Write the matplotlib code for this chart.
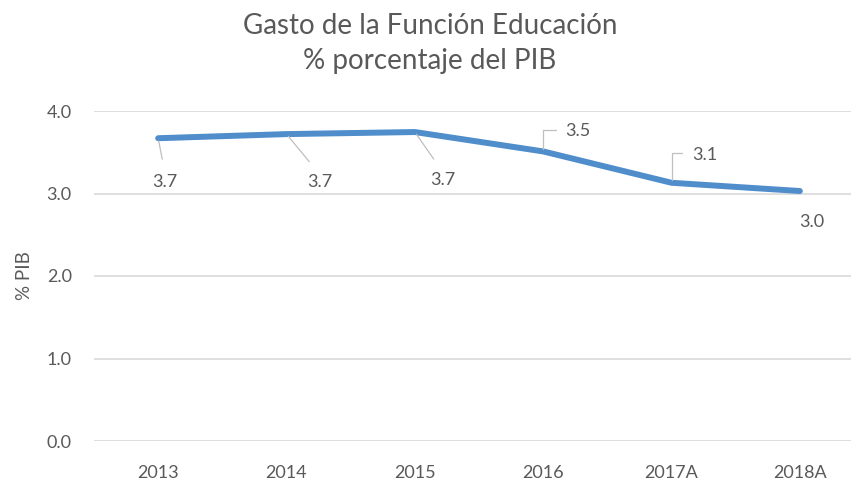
import matplotlib
matplotlib.use("Agg")
import matplotlib.pyplot as plt

years = ["2013", "2014", "2015", "2016", "2017A", "2018A"]
gasto_pib = [3.67, 3.72, 3.745, 3.51, 3.13, 3.03]
y_ticks = [0.0, 1.0, 2.0, 3.0, 4.0]

# label offsets in pixels (dx, dy) and whether Excel drew an elbow leader
label_offsets = [(7, -44), (33, -48), (28, -48), (35, 20), (33, 28), (12, -31)]
label_style = ["straight", "straight", "straight", "elbow", "elbow", "none"]

plt.rcParams['font.family'] = ['Lato', 'DejaVu Sans']
text_color = '#595959'
grid_color = '#D9D9D9'
line_color = '#4F8DCB'
leader_color = '#BFBFBF'

fig = plt.figure(figsize=(8.51, 4.8), dpi=100)
ax = fig.add_axes([94 / 851, 39 / 480, (851 - 94) / 851, 330 / 480])

x = list(range(len(years)))
ax.plot(x, gasto_pib, color=line_color, linewidth=4.3, solid_capstyle='round',
        solid_joinstyle='round', zorder=3)

for i, v in enumerate(gasto_pib):
    dx, dy = label_offsets[i]
    kind = label_style[i]
    if kind == "straight":
        arrow = dict(arrowstyle='-', color=leader_color, lw=0.9,
                     relpos=(0.5, 1.0), shrinkA=9, shrinkB=2)
    elif kind == "elbow":
        arrow = dict(arrowstyle='-', color=leader_color, lw=0.9,
                     relpos=(0.0, 0.6), shrinkA=5, shrinkB=2,
                     connectionstyle='angle,angleA=0,angleB=90,rad=0')
    else:
        arrow = None
    ax.annotate(f"{v:.1f}", xy=(i, v), xytext=(dx, dy), textcoords='offset pixels',
                ha='center', va='center', fontsize=13, color=text_color,
                arrowprops=arrow, zorder=4)

ax.set_xlim(-0.5, 5.5 - 13 / 128)
ax.set_ylim(0, 4)
ax.set_xticks(x)
ax.set_xticklabels(years)
ax.set_yticks(y_ticks)
ax.set_yticklabels([f"{t:.1f}" for t in y_ticks])
ax.tick_params(axis='both', length=0, labelsize=13, labelcolor=text_color)
ax.tick_params(axis='x', pad=17)
ax.tick_params(axis='y', pad=16)
ax.grid(axis='y', color=grid_color, linewidth=1.2)
ax.set_axisbelow(True)
for s in ax.spines.values():
    s.set_visible(False)

ax.set_ylabel("% PIB", fontsize=13.5, color=text_color, labelpad=10)

fig.text(430 / 851, 1 - 26 / 480, "Gasto de la Función Educación", ha='center', va='center',
         fontsize=20, color=text_color)
fig.text(430 / 851, 1 - 61 / 480, "% porcentaje del PIB", ha='center', va='center',
         fontsize=20, color=text_color)

fig.savefig("out.png", dpi=100, facecolor='white')
